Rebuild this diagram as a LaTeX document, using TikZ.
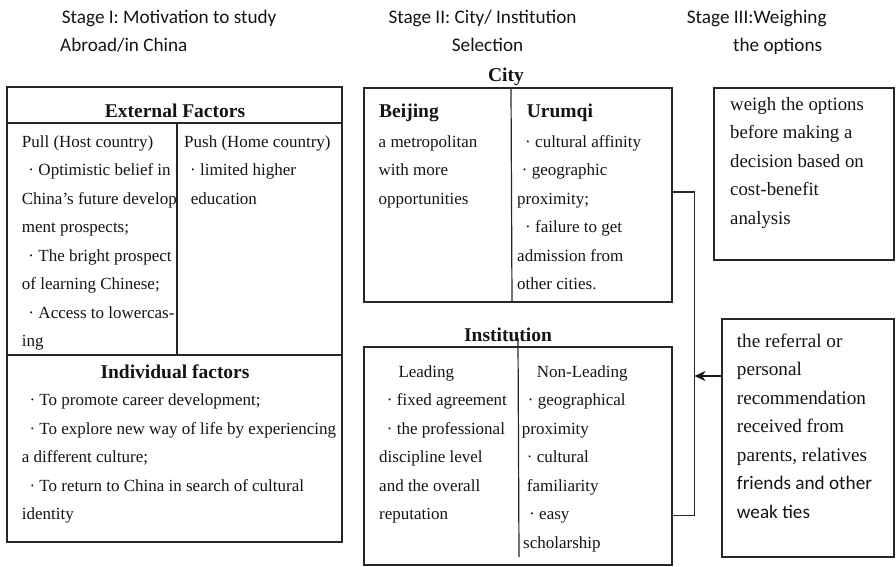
\documentclass[tikz,border=0pt]{standalone}
\usepackage{fontspec}
\setmainfont{Liberation Serif}
\newfontfamily\hdrfont{Carlito}
\usetikzlibrary{arrows.meta}
\newcommand\bl[1]{\hspace*{#1pt}\makebox[10pt][l]{·}}
\begin{document}
\begin{tikzpicture}[x=1pt,y=-1pt,
  box/.style={draw=black!85, line width=1.3pt, inner sep=0pt, outer sep=0pt, anchor=north west},
  rule/.style={draw=black!85, line width=1.2pt},
  txt/.style={anchor=base west, inner sep=0pt, align=left, text=black!92, font=\fontsize{17}{28.5}\selectfont},
  bigtxt/.style={txt, font=\fontsize{18.8}{28.5}\selectfont},
  hd/.style={anchor=base, inner sep=0pt, text=black!92, font=\fontsize{19.5}{24}\selectfont\bfseries},
  hdl/.style={hd, anchor=base west},
  stage/.style={anchor=base west, inner sep=0pt, text=black!92, font=\fontsize{19.2}{28.5}\selectfont\hdrfont},
]
\useasboundingbox (0,0) rectangle (896,566);

% stage headings
\node[stage] (s1a) at (61.7,23.3) {Stage I: Motivation to study};
\node[stage] (s1b) at (60,51.7) {Abroad/in China};
\node[stage] (s2a) at (388.3,23.3) {Stage II: City/ Institution};
\node[stage] (s2b) at (451.7,51.7) {Selection};
\node[stage] (s3a) at (686.7,23.3) {Stage III:Weighing};
\node[stage] (s3b) at (733,51.7) {the options};

% ---------- Stage I box ----------
\node[box, minimum width=335pt, minimum height=455pt] (ext) at (7,87) {};
\coordinate (e1) at (7,123);
\coordinate (e2) at (7,355);
\draw[rule] (e1) -- (ext.east |- e1);
\draw[rule] (e2) -- (ext.east |- e2);
\coordinate (dv1) at (177,123);
\coordinate (dv2) at (177,355);
\draw[rule] (dv1) -- (dv2);

% (multi-line nodes are placed by the baseline of their last line)
\node[hd] (exth) at (175,117) {External Factors};
\node[txt] (pull) at (21.7,346.5) {Pull (Host country)\\
\bl{6.6}Optimistic belief in\\
China’s future develop\\
ment prospects;\\
\bl{6.6}The bright prospect\\
of learning Chinese;\\
\bl{6.6}Access to lowercas-\\
ing};
\node[txt] (push) at (184,204) {Push (Home country)\\
\bl{6}limited higher\\
\hspace*{6.7pt}education};

\node[hd] (indh) at (175,378) {Individual factors};
\node[txt] (ind) at (21.7,519.5) {\bl{7.6}To promote career development;\\
\bl{7.6}To explore new way of life by experiencing\\
a different culture;\\
\bl{7.6}To return to China in search of cultural\\
identity};

% ---------- City box ----------
\node[hd] (cityh) at (506,81) {City};
\node[box, minimum width=308pt, minimum height=214pt] (city) at (364,88) {};
\coordinate (cd1) at (511,88);
\coordinate (cd2) at (512,302);
\draw[rule] (cd1) -- (cd2);
\node[hdl] (bj) at (379,117) {Beijing};
\node[txt] (bjt) at (378.5,204) {a metropolitan\\with more\\opportunities};
\node[hdl] (ur) at (526.7,117) {Urumqi};
\node[txt] (urt) at (517,289.5) {\bl{8}cultural affinity\\
\bl{4.7}geographic\\
proximity;\\
\bl{8}failure to get\\
admission from\\
other cities.};

% ---------- Institution box ----------
\node[hd] (insth) at (508,341) {Institution};
\node[box, minimum width=308pt, minimum height=218pt] (inst) at (364,347) {};
\coordinate (id1) at (518,338);
\coordinate (id2) at (519,557);
\draw[rule] (id1) -- (id2);
\node[txt] (lead) at (379,519.5) {\hspace*{19.3pt}Leading\\
\bl{7.7}fixed agreement\\
\bl{7.7}the professional\\
discipline level\\
and the overall\\
reputation};
\node[txt] (nlead) at (521.7,548) {\hspace*{15pt}Non-Leading\\
\bl{6}geographical\\
proximity\\
\bl{5}cultural\\
\hspace*{5pt}familiarity\\
\bl{7.3}easy\\
\hspace*{1.3pt}scholarship};

% ---------- Stage III boxes ----------
\node[box, minimum width=180pt, minimum height=172pt] (weigh) at (714,88) {};
\node[bigtxt] (weight) at (730,224) {weigh the options\\
before making a\\
decision based on\\
cost-benefit\\
analysis};

\node[box, minimum width=172pt, minimum height=238pt] (ref) at (722,319) {};
\node[txt, font=\fontsize{19.2}{28.5}\selectfont] (reft) at (736.7,518) {the referral or\\
personal\\
recommendation\\
received from\\
parents, relatives\\
{\hdrfont friends and other}\\
{\hdrfont weak ties}};

% ---------- connectors ----------
\coordinate (bt) at (694.5,192);
\coordinate (bb) at (694.5,515.5);
\coordinate (arr) at (694.5,376);
\draw[rule] (city.east |- bt) -- (bt) -- (bb) -- (inst.east |- bb);
\draw[draw=black!90, line width=2pt, -{Stealth[length=11pt,width=10pt]}] (ref.west |- arr) -- (arr);
\end{tikzpicture}
\end{document}
